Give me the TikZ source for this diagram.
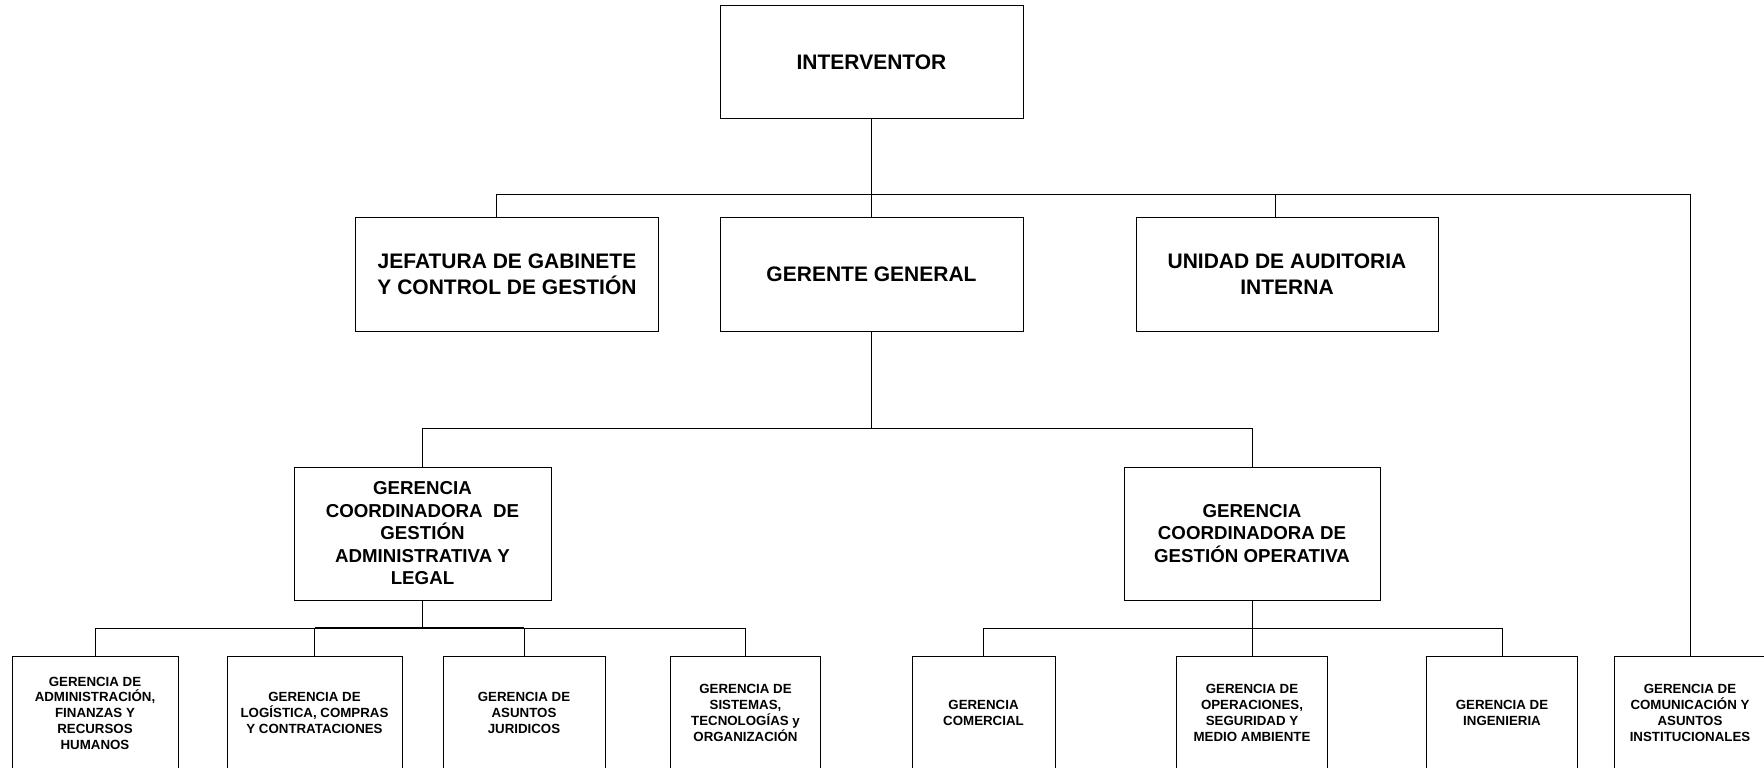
\documentclass[tikz,border=0pt]{standalone}
\usepackage{fontspec}
\setmainfont{Liberation Sans}
\begin{document}
\begin{tikzpicture}[x=1pt,y=1pt,
  box/.style={draw=black, line width=1pt, rectangle, inner sep=0pt, align=center,
              font=\bfseries\fontsize{21}{26}\selectfont},
  midbox/.style={box, font=\bfseries\fontsize{18.7}{22.5}\selectfont},
  smallbox/.style={box, minimum height=114, font=\bfseries\fontsize{13.3}{15.75}\selectfont},
  link/.style={draw=black, line width=1pt},
  trunk/.style={draw=black, line width=1.6pt}]
\useasboundingbox (0,0) rectangle (1764,-768);
\begin{scope}
\clip (0,0) rectangle (1764,-768);

% top level
\node[box, minimum width=303, minimum height=113] (int) at (871.5,-62) {INTERVENTOR};

% second level
\node[box, minimum width=303, minimum height=114] (jef) at (507,-274)
  {JEFATURA DE GABINETE\\Y CONTROL DE GESTIÓN};
\node[box, minimum width=303, minimum height=114] (gg) at (871.5,-274) {GERENTE GENERAL};
\node[box, minimum width=302, minimum height=114] (uai) at (1287,-274)
  {UNIDAD DE AUDITORIA\\INTERNA};

% coordinating managements
\node[midbox, minimum width=257, minimum height=133] (gcl) at (422.5,-533.5)
  {GERENCIA\\COORDINADORA\ \ DE\\GESTIÓN\\ADMINISTRATIVA Y\\LEGAL};
\node[midbox, minimum width=256, minimum height=133] (gco) at (1252,-533.5)
  {GERENCIA\\COORDINADORA DE\\GESTIÓN OPERATIVA};

% operational managements (open at the bottom edge)
\node[smallbox, minimum width=166] (g1) at (95,-713)
  {GERENCIA DE\\ADMINISTRACIÓN,\\FINANZAS Y\\RECURSOS\\HUMANOS};
\node[smallbox, minimum width=175] (g2) at (314.5,-713)
  {GERENCIA DE\\LOGÍSTICA, COMPRAS\\Y CONTRATACIONES};
\node[smallbox, minimum width=162] (g3) at (524,-713)
  {GERENCIA DE\\ASUNTOS\\JURIDICOS};
\node[smallbox, minimum width=150.5] (g4) at (745.5,-713)
  {GERENCIA DE\\SISTEMAS,\\TECNOLOGÍAS y\\ORGANIZACIÓN};
\node[smallbox, minimum width=143] (g5) at (983.5,-713)
  {GERENCIA\\COMERCIAL};
\node[smallbox, minimum width=150.5] (g6) at (1252,-713)
  {GERENCIA DE\\OPERACIONES,\\SEGURIDAD Y\\MEDIO AMBIENTE};
\node[smallbox, minimum width=150.5] (g7) at (1502,-713)
  {GERENCIA DE\\INGENIERIA};
\node[smallbox, minimum width=151] (g8) at (1690,-713)
  {GERENCIA DE\\COMUNICACIÓN Y\\ASUNTOS\\INSTITUCIONALES};

% bus levels
\coordinate (bus1) at (0,-194.5);
\coordinate (bus2) at (0,-428.5);
\coordinate (bus3) at (0,-628);

% interventor to second level
\draw[link] (int.south) -- (int.south |- bus1);
\draw[link] ([xshift=-11pt]jef.north) |- (g8.north |- bus1) -- (g8.north);
\draw[link] (gg.north) -- (gg.north |- bus1);
\draw[link] ([xshift=-12pt]uai.north) -- ([xshift=-12pt]uai.north |- bus1);

% general manager to coordinating managements
\draw[link] (gg.south) -- (gg.south |- bus2);
\draw[link] (gcl.north) |- (gco.north |- bus2) -- (gco.north);

% administrative branch
\draw[trunk] (gcl.south) -- (gcl.south |- bus3);
\draw[link] (g1.north) |- (g4.north |- bus3) -- (g4.north);
\draw[trunk] (g2.north |- bus3) -- (g3.north |- bus3);
\draw[link] (g2.north) -- (g2.north |- bus3);
\draw[link] (g3.north) -- (g3.north |- bus3);

% operational branch
\draw[link] (gco.south) -- (gco.south |- bus3);
\draw[link] (g5.north) |- (g7.north |- bus3) -- (g7.north);
\draw[link] (g6.north) -- (g6.north |- bus3);
\end{scope}
\end{tikzpicture}
\end{document}
